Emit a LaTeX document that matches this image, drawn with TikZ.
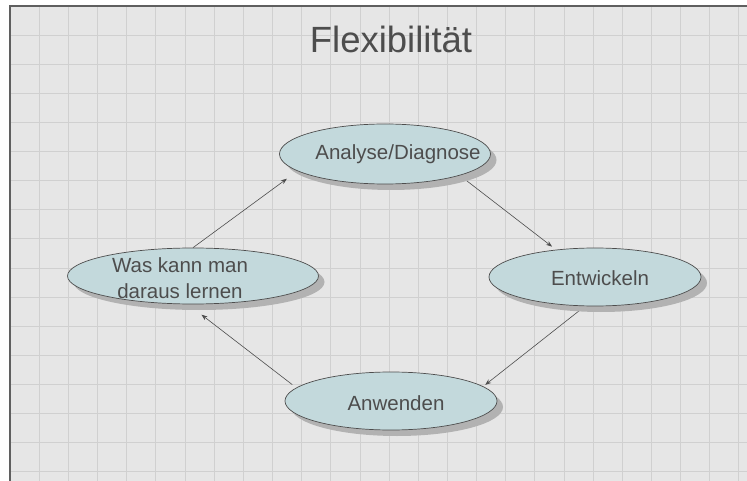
\documentclass[tikz,border=0pt]{standalone}
\usepackage{fontspec}
\setmainfont{Liberation Sans}
\usetikzlibrary{shapes}
\usetikzlibrary{shadows}
\usetikzlibrary{arrows.meta}
\usetikzlibrary{backgrounds}
\definecolor{paper}{HTML}{E6E6E6}
\definecolor{gridgray}{HTML}{D0D0D0}
\definecolor{tealfill}{HTML}{C3D9DC}
\definecolor{inkgray}{HTML}{4D4D4D}

\begin{document}
\begin{tikzpicture}[x=1pt,y=-1pt,
		phase/.style={ellipse,draw=inkgray,line width=0.7pt,fill=tealfill,inner sep=0pt,
			drop shadow={shadow xshift=6pt,shadow yshift=-6pt,fill=gray!60,opacity=1}},
		lbl/.style={text=inkgray,font=\fontsize{20.5}{26}\selectfont,align=center},
		flow/.style={draw=inkgray,line width=0.6pt,-{Stealth[length=6pt,width=4.5pt]}}]
		\useasboundingbox (0,0) rectangle (747,481);
		\node[text=inkgray,font=\fontsize{36.5}{40}\selectfont,anchor=base] (title) at (391,53) {Flexibilität};
		\node[phase,minimum width=211pt,minimum height=60pt,
			label={[lbl,xshift=13pt]center:Analyse/Diagnose}] (ana) at (385,154) {};
		\node[phase,minimum width=212pt,minimum height=58pt,
			label={[lbl,xshift=5pt,yshift=-1pt]center:Entwickeln}] (ent) at (595,277) {};
		\node[phase,minimum width=212pt,minimum height=58pt,
			label={[lbl,xshift=5pt,yshift=-2pt]center:Anwenden}] (anw) at (391,401) {};
		\node[phase,minimum width=251pt,minimum height=56pt,
			label={[lbl,xshift=-13pt,yshift=-2pt]center:Was kann man\\daraus lernen}] (was) at (193,276) {};
		\begin{pgfonlayer}{background}
			\fill[paper] (10,6) rectangle (747,481);
			\foreach \k in {1,...,25}
				\draw[gridgray,line width=0.6pt] (10+\k*29.15,6) -- (10+\k*29.15,481);
			\foreach \k in {1,...,16}
				\draw[gridgray,line width=0.6pt] (10,6+\k*29.1) -- (747,6+\k*29.1);
			\draw[inkgray!90,line width=1.5pt] (10,481) -- (10,6) -- (747,6);
			\draw[flow,shorten >=13pt] (was.north) -- (ana.191);
			\draw[flow,shorten >=5pt] (ana.344) -- (ent.145);
			\draw[flow,shorten >=2.5pt] (ent.251) -- (anw.9);
			\draw[flow,shorten <=5pt,shorten >=17pt] (anw.172) -- (was.260);
		\end{pgfonlayer}
	\end{tikzpicture}
\end{document}
